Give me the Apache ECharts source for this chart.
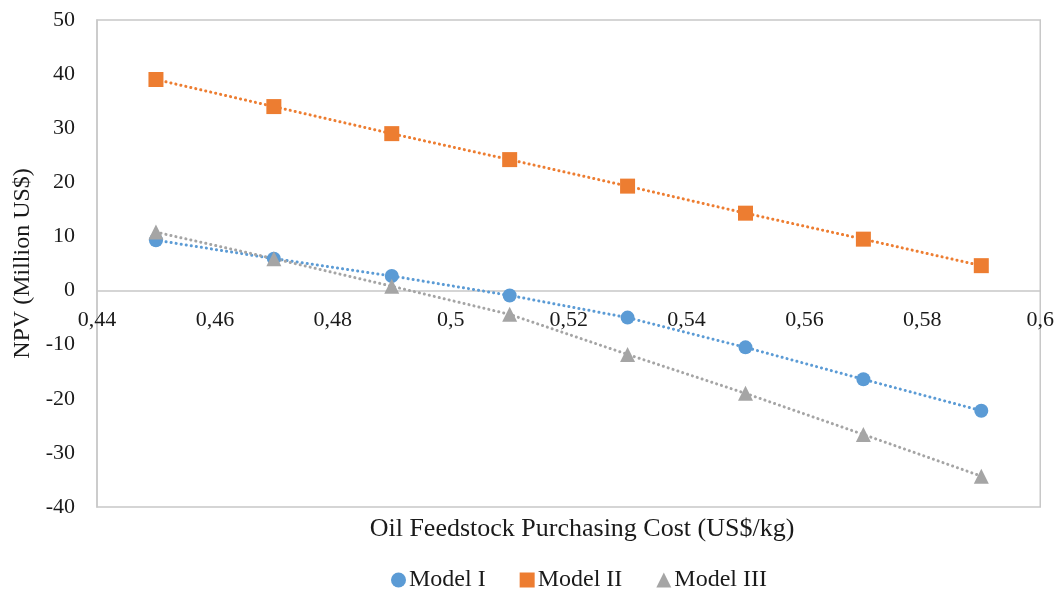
<!DOCTYPE html>
<html><head><meta charset="utf-8">
<script src="https://cdn.jsdelivr.net/npm/echarts@6/dist/echarts.min.js"></script>
<style>html,body{margin:0;padding:0;background:#fff}#c{width:1057px;height:590px}</style>
</head><body><div id="c"></div>
<script>
const xValues = [0.45, 0.47, 0.49, 0.51, 0.53, 0.55, 0.57, 0.59];
const model1 = [9.3, 5.9, 2.7, -0.9, -5.0, -10.5, -16.4, -22.2];
const model2 = [39.0, 34.0, 29.0, 24.2, 19.3, 14.3, 9.5, 4.6];
const model3 = [10.8, 5.9, 0.8, -4.4, -11.8, -19.0, -26.6, -34.3];
const seriesNames = ['Model I', 'Model II', 'Model III'];
const xTitle = 'Oil Feedstock Purchasing Cost (US$/kg)';
const yTitle = 'NPV (Million US$)';
const yMin = -40, yMax = 50;

const font = 'Liberation Serif, Times New Roman, serif';
const colors = ['#5B9BD5', '#ED7D31', '#A5A5A5'];
const symbols = ['circle', 'rect', 'triangle'];
const datas = [model1, model2, model3];

const W = 1057, H = 590;
const gTop = 20, gBottom = 83, gLeft = 97, gRight = 15;
const gH = H - gTop - gBottom;
// place x axis at y = 0 (distance from grid bottom to zero line)
const zeroOffset = -gH * (0 - yMin) / (yMax - yMin);

const chart = echarts.init(document.getElementById('c'));
chart.setOption({
  animation: false,
  textStyle: {fontFamily: font},
  color: colors,
  grid: {left: gLeft, right: gRight, top: gTop, bottom: gBottom, show: true, borderColor: '#C8C8C8', borderWidth: 1.5},
  title: {text: xTitle, left: 577, textAlign: 'center', top: 511,
    textStyle: {fontFamily: font, fontSize: 26, fontWeight: 'normal', color: '#1a1a1a'}},
  legend: {top: 563, left: 386, itemWidth: 15, itemHeight: 15, itemGap: 34,
    data: seriesNames.map((n, i) => ({name: n, icon: symbols[i]})),
    textStyle: {fontFamily: font, fontSize: 24, color: '#1a1a1a', padding: [0, 0, 0, -2]}},
  xAxis: {type: 'value', min: 0.44, max: 0.6, interval: 0.02,
    position: 'bottom', offset: zeroOffset,
    axisLine: {onZero: false, lineStyle: {color: '#C8C8C8', width: 1.5}},
    axisTick: {show: false}, splitLine: {show: false},
    axisLabel: {fontFamily: font, fontSize: 22, color: '#1a1a1a', margin: 19,
      showMinLabel: true, showMaxLabel: true, hideOverlap: false,
      formatter: v => String(Math.round(v * 100) / 100).replace('.', ',')}},
  yAxis: {type: 'value', min: yMin, max: yMax, interval: 10,
    name: yTitle, nameLocation: 'middle', nameGap: 60, nameRotate: 90,
    nameTextStyle: {fontFamily: font, fontSize: 24, color: '#1a1a1a'},
    axisLine: {show: true, onZero: false, lineStyle: {color: '#C8C8C8', width: 1.5}},
    axisTick: {show: false}, splitLine: {show: false},
    axisLabel: {fontFamily: font, fontSize: 22, color: '#1a1a1a', margin: 22}},
  series: datas.map((d, i) => ({
    name: seriesNames[i], type: 'line',
    data: xValues.map((x, j) => [x, d[j]]),
    symbol: symbols[i], symbolSize: i === 0 ? 14 : 15,
    itemStyle: {color: colors[i]},
    lineStyle: {color: colors[i], width: 3, type: [0.1, 5], cap: 'round'}
  }))
});
</script></body></html>
